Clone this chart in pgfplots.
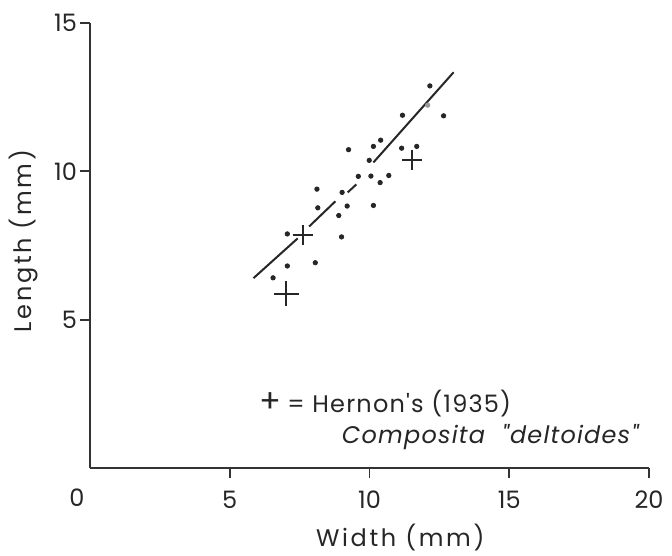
\documentclass[border=0pt]{standalone}
\usepackage{fontspec}
\setmainfont{Poppins}
\newfontfamily\spaced[LetterSpace=11]{Poppins}
\newfontfamily\legendfont[LetterSpace=5]{Poppins}
\usepackage{pgfplots}
\pgfplotsset{compat=1.18}

\begin{document}
\begin{tikzpicture}
% page frame of the original figure (axis origin at 0,0)
\useasboundingbox (-45pt,-43.5pt) rectangle (291pt,234pt);
\begin{axis}[
    scale only axis,
    width=279.5pt, height=222.5pt,
    xmin=0, xmax=20, ymin=0, ymax=15,
    axis lines=left,
    axis line style={-, line width=1pt, draw=black!80},
    xtick={5,10,15,20}, ytick={5,10,15},
    tick align=outside,
    major tick length=5pt,
    tick style={line width=0.9pt, draw=black!80},
    ticklabel style={font=\fontsize{12}{14}\selectfont, text=black!85},
    /pgf/number format/assume math mode=true,
    xticklabel style={yshift=-3pt},
    yticklabel style={xshift=2pt},
    xlabel={\spaced Width (mm)},
    ylabel={\spaced Length (mm)},
    xlabel style={at={([yshift=-35pt]rel axis cs:0.555,0)}, anchor=center,
                  font=\fontsize{12}{14}\selectfont, text=black!85},
    ylabel style={at={([xshift=-33pt]rel axis cs:0,0.51)}, anchor=center,
                  font=\fontsize{12}{14}\selectfont, text=black!85},
    clip=false,
    unbounded coords=jump,
]
% fitted line, drawn with gaps as in the original
\addplot[line width=1pt, black!85] coordinates {
    (5.85,6.40) (7.43,7.74)
    (nan,nan)
    (7.84,8.14) (8.78,8.99)
    (nan,nan)
    (9.22,9.29) (9.53,9.56)
    (nan,nan)
    (10.14,10.30) (13.01,13.34)
};
% Composita "deltoides" specimens
\addplot[only marks, mark=*, mark size=1.1pt, black!85] coordinates {
    (12.16,12.88) (11.18,11.89) (12.65,11.87) (10.40,11.05)
    (10.14,10.84) (9.25,10.73) (11.15,10.78) (11.69,10.84)
    (9.99,10.37) (9.60,9.83) (10.05,9.84) (10.69,9.86)
    (10.38,9.62) (8.12,9.40) (9.02,9.29) (8.15,8.77)
    (9.20,8.83) (10.14,8.85) (8.90,8.51) (9.00,7.79)
    (7.06,7.89) (7.06,6.81) (8.06,6.92) (6.55,6.41)
};
\addplot[only marks, mark=*, mark size=1.1pt, black!40] coordinates {
    (12.08,12.23)
};
% Hernon's (1935)
\addplot[only marks, mark=+, mark size=6.3pt, line width=0.9pt, black!85] coordinates {
    (7.02,5.87)
};
\addplot[only marks, mark=+, mark size=5pt, line width=0.9pt, black!85] coordinates {
    (7.62,7.85) (11.52,10.37)
};
\node[anchor=west, font=\fontsize{12}{14}\selectfont, text=black!85]
    at (rel axis cs:0.290,0.146) {{\fontsize{16}{16}\selectfont +} \legendfont = Hernon's (1935)};
\node[anchor=west, font=\fontsize{12}{14}\selectfont, text=black!85]
    at (rel axis cs:0.438,0.070) {\legendfont\itshape Composita \ "deltoides"};
\node[anchor=center, font=\fontsize{12}{14}\selectfont, text=black!85]
    at ([xshift=-6.5pt,yshift=-15pt]rel axis cs:0,0) {0};
\end{axis}
\end{tikzpicture}
\end{document}
